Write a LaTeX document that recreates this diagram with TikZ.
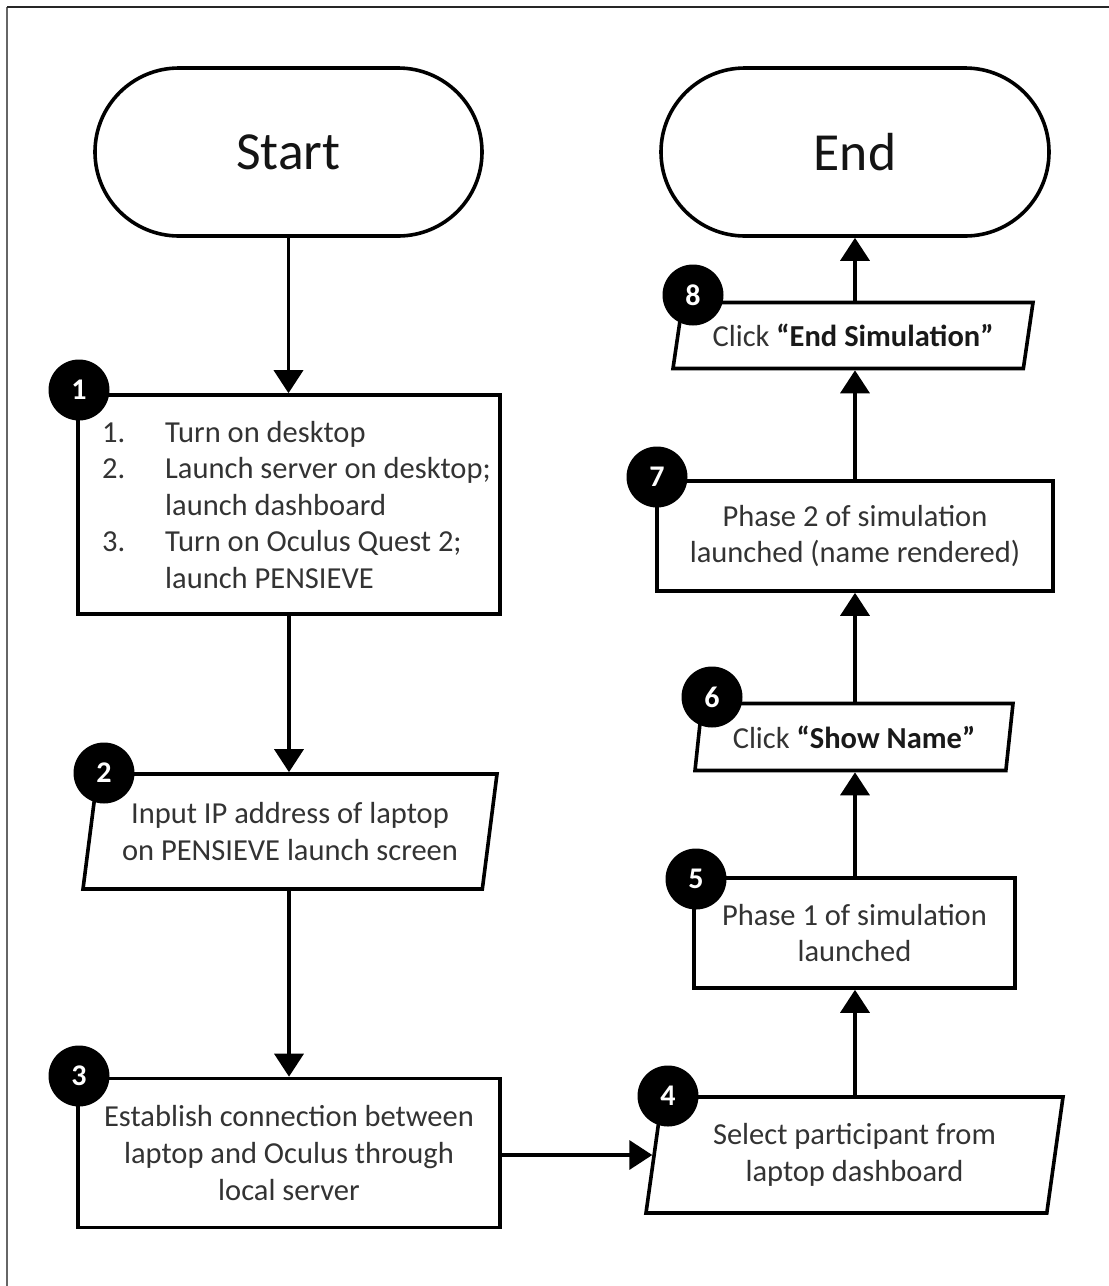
\documentclass[tikz,border=0pt]{standalone}
\usepackage{fontspec}
\setmainfont{Carlito}
\usetikzlibrary{arrows.meta,shapes.geometric}
\newcommand{\bodyfont}{\fontsize{30.5}{36.6}\selectfont}
\begin{document}
\begin{tikzpicture}[x=1pt,y=-1pt,
  every node/.style={inner sep=0pt},
  term/.style={draw, line width=3.6pt, rectangle, rounded corners=83.9pt,
    minimum height=168pt, font=\fontsize{53.6}{60}\selectfont, text=black!92},
  procbox/.style={draw, line width=3.6pt, rectangle, align=center,
    font=\bodyfont, text=black!80},
  iobox/.style={draw, line width=3.6pt, trapezium, trapezium stretches=true,
    trapezium stretches body=true, align=center, font=\bodyfont, text=black!80},
  badge/.style={circle, fill=black, minimum size=61pt, text=white,
    font=\bfseries\fontsize{30}{30}\selectfont},
  flow/.style={line width=3.6pt, -{Triangle[length=23pt,width=29pt]}}
]
\useasboundingbox (0,0) rectangle (1109,1286);

% frame
\draw[black!60, line width=1.8pt] (7,1286) -- (7,7);
\draw[black!85, line width=1.8pt] (7,7) -- (1109,7);

% left column
\node[term, minimum width=387pt] (start) at (288.5,152) {Start};
\node[procbox, minimum width=422pt, minimum height=219pt] (box1) at (289,504.5) {};
\node[anchor=base west, font=\bodyfont, text=black!80] (steps) at (102,442)
  {\begin{tabular}[t]{@{}p{63pt}@{}l@{}}
   1. & Turn on desktop\\
   2. & Launch server on desktop;\\
      & launch dashboard\\
   3. & Turn on Oculus Quest 2;\\
      & launch PENSIEVE
   \end{tabular}};
\node[iobox, trapezium left angle=75.8, trapezium right angle=104.2,
  minimum width=414pt, minimum height=115pt] (box2) at (290,831.5)
  {Input IP address of laptop\\on PENSIEVE launch screen};
\node[procbox, minimum width=422pt, minimum height=149pt] (box3) at (289,1153)
  {Establish connection between\\laptop and Oculus through\\local server};

% right column
\node[iobox, trapezium left angle=75.5, trapezium right angle=104.5,
  minimum width=417pt, minimum height=116pt] (box4) at (854.5,1155)
  {Select participant from\\laptop dashboard};
\node[procbox, minimum width=321pt, minimum height=110pt] (box5) at (854.5,933)
  {Phase 1 of simulation\\launched};
\node[iobox, trapezium left angle=72.6, trapezium right angle=107.4,
  minimum width=318pt, minimum height=67pt] (box6) at (854,737)
  {Click \textbf{\color{black!90}“Show Name”}};
\node[procbox, minimum width=396pt, minimum height=110pt] (box7) at (855,536)
  {Phase 2 of simulation\\launched (name rendered)};
\node[iobox, trapezium left angle=67, trapezium right angle=113,
  minimum width=360pt, minimum height=66pt] (box8) at (853,335.5)
  {Click \textbf{\color{black!90}“End Simulation”}};
\node[term, minimum width=388pt] (end) at (855,152) {End};

% step badges
\node[badge] (b1) at (79,390) {1};
\node[badge] (b2) at (104,773) {2};
\node[badge] (b3) at (79,1076) {3};
\node[badge] (b4) at (668,1096) {4};
\node[badge] (b5) at (696,879) {5};
\node[badge] (b6) at (712,697) {6};
\node[badge] (b7) at (657,477) {7};
\node[badge] (b8) at (693,295) {8};

% connectors
\draw[flow] (start.south) -- (start.south |- box1.north);
\draw[flow] (box1.south) -- (box1.south |- box2.north);
\draw[flow] (box1.south |- box2.south) -- (box1.south |- box3.north);
\draw[flow] (box3.east |- box4) -- (box4);
\draw[flow] (end.south |- box4.north) -- (end.south |- box5.south);
\draw[flow] (end.south |- box5.north) -- (end.south |- box6.south);
\draw[flow] (end.south |- box6.north) -- (end.south |- box7.south);
\draw[flow] (end.south |- box7.north) -- (end.south |- box8.south);
\draw[flow] (end.south |- box8.north) -- (end.south);
\end{tikzpicture}
\end{document}
